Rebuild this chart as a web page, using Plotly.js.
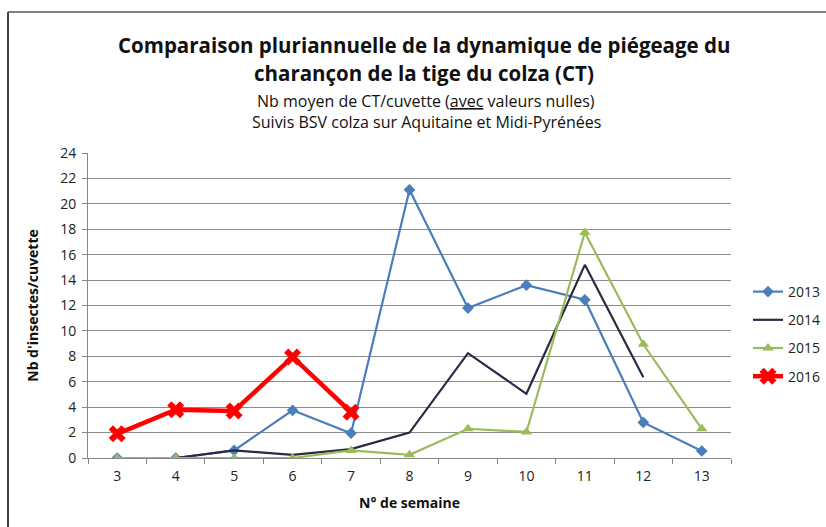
<!DOCTYPE html>
<html>
<head>
<meta charset="utf-8">
<script src="https://cdn.plot.ly/plotly-3.0.1.min.js"></script>
<style>html,body{margin:0;padding:0;background:#fff;}#chart{width:826px;height:527px;}</style>
</head>
<body>
<div id="chart"></div>
<script>
var weeks = ["3","4","5","6","7","8","9","10","11","12","13"];
var y2013 = [0, 0, 0.6, 3.75, 1.95, 21.1, 11.8, 13.6, 12.45, 2.8, 0.55];
var y2014 = [null, 0, 0.6, 0.25, 0.7, 2.0, 8.25, 5.05, 15.2, 6.35, null];
var y2015 = [0, 0, 0, 0, 0.6, 0.25, 2.3, 2.05, 17.75, 8.95, 2.3];
var y2016 = [1.9, 3.8, 3.7, 7.95, 3.6, null, null, null, null, null, null];
var yTicks = [0, 2, 4, 6, 8, 10, 12, 14, 16, 18, 20, 22, 24];

var FONT = "Open Sans, Noto Sans, sans-serif";
var traces = [
  {x: weeks, y: y2013, name: "2013", legendgroup: "a", type: "scatter", mode: "lines+markers",
   line: {color: "#4A7EBB", width: 2.2}, marker: {symbol: "diamond", size: 9, color: "#4A7EBB"}},
  {x: weeks, y: y2014, name: "2014", legendgroup: "b", type: "scatter", mode: "lines",
   line: {color: "#2B2944", width: 2.2}},
  {x: weeks, y: y2015, name: "2015", legendgroup: "c", type: "scatter", mode: "lines+markers",
   line: {color: "#9BBB59", width: 2.2}, marker: {symbol: "triangle-up", size: 10, color: "#9BBB59"}},
  {x: weeks, y: y2016, name: "2016", legendgroup: "d", type: "scatter", mode: "lines+markers",
   line: {color: "#FF0000", width: 4.5}, marker: {symbol: "x", size: 15, color: "#FF0000"}}
];

var L = 88, R = 95, T = 153, B = 69;
var W = 826 - L - R, H = 527 - T - B;
function px(p){ return (p - L) / W; }
function py(p){ return (527 - B - p) / H; }

var layout = {
  width: 826, height: 527,
  margin: {l: L, r: R, t: T, b: B, autoexpand: false},
  paper_bgcolor: "#fff", plot_bgcolor: "#fff",
  font: {family: FONT, color: "#222", size: 13},
  showlegend: true,
  legend: {xref: "container", yref: "container", x: 826 / 826, xanchor: "right",
           y: 1 - 276 / 527, yanchor: "top", itemwidth: 30,
           font: {family: FONT, size: 14, color: "#222"}, tracegroupgap: 7,
           traceorder: "grouped", bgcolor: "rgba(0,0,0,0)"},
  xaxis: {type: "category", range: [-0.5, 10.5], tickson: "boundaries", ticks: "outside",
          ticklen: 5, tickcolor: "#868686", showline: true, linecolor: "#868686", linewidth: 1,
          showgrid: false, zeroline: false, tickfont: {family: FONT, size: 14, color: "#222"},
          ticklabelstandoff: 5, fixedrange: true, automargin: false,
          title: {text: "<b>N° de semaine</b>", font: {family: FONT, size: 14, color: "#111"}, standoff: 14}},
  yaxis: {range: [0, 24], tickvals: yTicks, ticktext: yTicks.map(String), ticks: "outside",
          ticklen: 5, tickcolor: "#868686", showline: true, linecolor: "#868686", linewidth: 1,
          showgrid: true, gridcolor: "#8C8C8C", gridwidth: 1, zeroline: false,
          tickfont: {family: FONT, size: 14, color: "#222"}, ticklabelstandoff: 3, fixedrange: true,
          automargin: false,
          title: {text: "<b>Nb d'insectes/cuvette</b>", font: {family: FONT, size: 14, color: "#111"}, standoff: 18}},
  annotations: [
    {xref: "paper", yref: "paper", x: px(424), y: py(45), xanchor: "center", yanchor: "middle",
     showarrow: false, text: "<b>Comparaison pluriannuelle de la dynamique de piégeage du</b>",
     font: {family: FONT, size: 20.5, color: "#111"}},
    {xref: "paper", yref: "paper", x: px(424), y: py(73), xanchor: "center", yanchor: "middle",
     showarrow: false, text: "<b>charançon de la tige du colza (CT)</b>",
     font: {family: FONT, size: 20.5, color: "#111"}},
    {xref: "paper", yref: "paper", x: px(426), y: py(101), xanchor: "center", yanchor: "middle",
     showarrow: false, text: "Nb moyen de CT/cuvette (<span style=\"text-decoration:underline\">avec</span> valeurs nulles)",
     font: {family: FONT, size: 16, color: "#111"}},
    {xref: "paper", yref: "paper", x: px(426), y: py(122), xanchor: "center", yanchor: "middle",
     showarrow: false, text: "Suivis BSV colza sur Aquitaine et Midi-Pyrénées",
     font: {family: FONT, size: 16, color: "#111"}}
  ],
  shapes: [
    {type: "line", xref: "paper", yref: "paper", x0: px(8), x1: px(826), y0: py(12), y1: py(12),
     line: {color: "#7F7F7F", width: 2}},
    {type: "line", xref: "paper", yref: "paper", x0: px(8), x1: px(8), y0: py(12), y1: py(527),
     line: {color: "#404040", width: 2}}
  ]
};

Plotly.newPlot("chart", traces, layout, {displayModeBar: false, staticPlot: true});
</script>
</body>
</html>
